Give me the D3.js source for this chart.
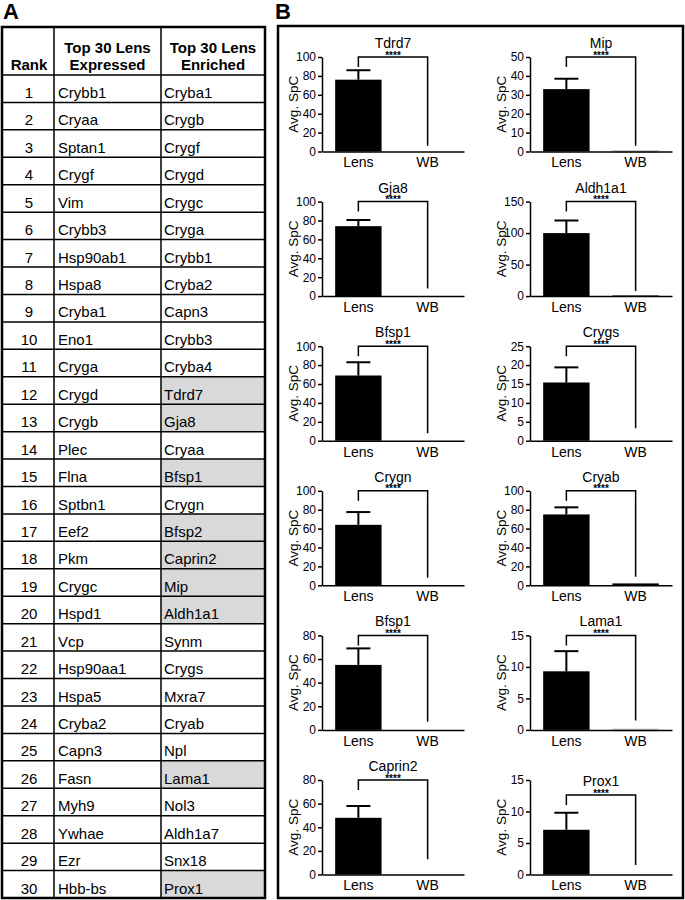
<!DOCTYPE html>
<html>
<head>
<meta charset="utf-8">
<script src="https://cdn.jsdelivr.net/npm/d3@7"></script>
<style>
  body { margin: 0; background: #fff; }
  svg { display: block; font-family: "Liberation Sans", Arial, sans-serif; }
</style>
</head>
<body>
<div id="fig"></div>
<script>
// ---- panel A: table ----
const ranks = [1,2,3,4,5,6,7,8,9,10,11,12,13,14,15,16,17,18,19,20,21,22,23,24,25,26,27,28,29,30]
const expressed = ['Crybb1','Cryaa','Sptan1','Crygf','Vim','Crybb3','Hsp90ab1','Hspa8','Cryba1','Eno1',
  'Cryga','Crygd','Crygb','Plec','Flna','Sptbn1','Eef2','Pkm','Crygc','Hspd1',
  'Vcp','Hsp90aa1','Hspa5','Cryba2','Capn3','Fasn','Myh9','Ywhae','Ezr','Hbb-bs']
const enriched = ['Cryba1','Crygb','Crygf','Crygd','Crygc','Cryga','Crybb1','Cryba2','Capn3','Crybb3',
  'Cryba4','Tdrd7','Gja8','Cryaa','Bfsp1','Crygn','Bfsp2','Caprin2','Mip','Aldh1a1',
  'Synm','Crygs','Mxra7','Cryab','Npl','Lama1','Nol3','Aldh1a7','Snx18','Prox1']
const shaded = ['Tdrd7','Gja8','Bfsp1','Bfsp2','Caprin2','Mip','Aldh1a1','Lama1','Prox1']

// ---- panel B: bar charts (Lens vs WB) ----
const groups = ['Lens','WB']
const proteins = ['Tdrd7','Mip','Gja8','Aldh1a1','Bfsp1','Crygs','Crygn','Cryab','Bfsp1','Lama1','Caprin2','Prox1']
const lensMean = [76, 33, 74, 100, 69, 15.4, 64, 75, 55, 9.3, 48, 7.1]
const lensErr  = [10, 5.5, 6.5, 20, 14, 4, 13.5, 7.5, 14, 3.2, 10, 2.7]
const wbMean   = [0, 0, 0, 1, 0, 0, 0, 2, 0, 0, 0, 0]
const yMax     = [100, 50, 100, 150, 100, 25, 100, 100, 80, 15, 80, 15]
const yStep    = [20, 10, 20, 50, 20, 5, 20, 20, 20, 5, 20, 5]
const bracketAt = [100, 50, 100, 150, 100, 25, 100, 100, 80, 15, 80, 12.6]
const legEnd   = [6, 3, 8, 8, 8, 3.3, 8, 9, 7, 1.5, 13, 1.5]
const wbGray   = [false, true, false, false, false, false, false, false, false, true, false, false]

const W = 685, H = 900
const svg = d3.select('#fig').append('svg').attr('width', W).attr('height', H)

svg.append('text').attr('x', 3).attr('y', 19).text('A')
   .style('font-weight', 'bold').style('font-size', '22px')
svg.append('text').attr('x', 275).attr('y', 19).text('B')
   .style('font-weight', 'bold').style('font-size', '22px')

// table geometry
const tL = 2, tR = 265, tT = 27, tB = 898, hB = 75
const c1 = 54, c2 = 161
const rowY = d3.scaleBand().domain(ranks).range([hB, tB])

const table = svg.append('g')

table.selectAll('rect.shade')
  .data(ranks.filter((r, i) => shaded.includes(enriched[i])))
  .enter().append('rect')
  .attr('class', 'shade')
  .attr('x', c2).attr('width', tR - c2)
  .attr('y', r => rowY(r)).attr('height', rowY.bandwidth())
  .style('fill', '#d9d9d9')

table.selectAll('line.row')
  .data(ranks)
  .enter().append('line')
  .attr('class', 'row')
  .attr('x1', tL).attr('x2', tR)
  .attr('y1', r => rowY(r)).attr('y2', r => rowY(r))
  .style('stroke', '#000').style('stroke-width', 1.5)

;[c1, c2].forEach(x => {
  table.append('line').attr('x1', x).attr('x2', x).attr('y1', tT).attr('y2', tB)
    .style('stroke', '#000').style('stroke-width', 1.5)
})

table.append('rect').attr('x', tL).attr('y', tT).attr('width', tR - tL).attr('height', tB - tT)
  .style('fill', 'none').style('stroke', '#000').style('stroke-width', 2.5)

const head = table.append('g').style('font-weight', 'bold').style('font-size', '15px')
  .attr('text-anchor', 'middle')
head.append('text').attr('x', (tL + c1) / 2 + 1).attr('y', 70).text('Rank')
head.append('text').attr('x', (c1 + c2) / 2).attr('y', 53).text('Top 30 Lens')
head.append('text').attr('x', (c1 + c2) / 2).attr('y', 70).text('Expressed')
head.append('text').attr('x', (c2 + tR) / 2).attr('y', 53).text('Top 30 Lens')
head.append('text').attr('x', (c2 + tR) / 2).attr('y', 70).text('Enriched')

const body = table.append('g').style('font-size', '15px')
body.selectAll('text.rank').data(ranks).enter().append('text')
  .attr('class', 'rank').attr('text-anchor', 'middle')
  .attr('x', (tL + c1) / 2 + 1).attr('y', r => rowY(r) + 23).text(r => r)
body.selectAll('text.expr').data(expressed).enter().append('text')
  .attr('class', 'expr')
  .attr('x', c1 + 4).attr('y', (d, i) => rowY(ranks[i]) + 23).text(d => d)
body.selectAll('text.enr').data(enriched).enter().append('text')
  .attr('class', 'enr')
  .attr('x', c2 + 3).attr('y', (d, i) => rowY(ranks[i]) + 23).text(d => d)

// box around panel B
svg.append('rect').attr('x', 278).attr('y', 26).attr('width', 405).attr('height', 872)
  .style('fill', 'none').style('stroke', '#000').style('stroke-width', 2.5)

// bar chart panels
const colX = [322, 530], plotW = 142, plotH = 94.5
const rowTop = d3.scaleLinear().domain([0, 1]).range([57, 57 + 144.6])

proteins.forEach((name, i) => {
  const col = i % 2, row = Math.floor(i / 2)
  const x0 = colX[col], top = rowTop(row), bot = top + plotH

  const x = d3.scaleBand().domain(groups).range([x0, x0 + plotW])
    .paddingInner(0.33).paddingOuter(0.19)
  const y = d3.scaleLinear().domain([0, yMax[i]]).range([bot, top])

  const g = svg.append('g')

  // bars
  const vals = [lensMean[i], wbMean[i]]
  g.selectAll('rect.bar').data(groups).enter().append('rect')
    .attr('class', 'bar')
    .attr('x', d => x(d)).attr('width', x.bandwidth())
    .attr('y', (d, k) => y(vals[k])).attr('height', (d, k) => bot - y(vals[k]))
    .style('fill', '#000')

  if (wbGray[i]) {
    g.append('line')
      .attr('x1', x('WB')).attr('x2', x('WB') + x.bandwidth())
      .attr('y1', bot).attr('y2', bot)
      .style('stroke', '#bdbdbd').style('stroke-width', 2.5)
  }

  // error bar
  const cx = x('Lens') + x.bandwidth() / 2
  g.append('line').attr('x1', cx).attr('x2', cx)
    .attr('y1', y(lensMean[i])).attr('y2', y(lensMean[i] + lensErr[i]))
    .style('stroke', '#000').style('stroke-width', 2)
  g.append('line').attr('x1', cx - 12).attr('x2', cx + 12)
    .attr('y1', y(lensMean[i] + lensErr[i])).attr('y2', y(lensMean[i] + lensErr[i]))
    .style('stroke', '#000').style('stroke-width', 2)

  // axes
  const yAxis = d3.axisLeft(y)
    .tickValues(d3.range(0, yMax[i] + 1e-9, yStep[i]))
    .tickSize(4).tickSizeOuter(0).tickPadding(2)
  const ya = g.append('g').attr('transform', `translate(${x0},0)`).call(yAxis)
  ya.selectAll('text').style('font-size', '12px').style('font-family', '"Liberation Sans", Arial, sans-serif')
  ya.select('.domain').style('stroke-width', 1.5)
  ya.selectAll('.tick line').style('stroke-width', 1.5)

  const xAxis = d3.axisBottom(x).tickSize(0).tickSizeOuter(0).tickPadding(6)
  const xa = g.append('g').attr('transform', `translate(0,${bot})`).call(xAxis)
  xa.selectAll('text').style('font-size', '14px').style('font-family', '"Liberation Sans", Arial, sans-serif')
  xa.select('.domain').style('stroke-width', 1.5)

  // y label
  g.append('text')
    .attr('transform', `translate(${x0 - 24},${(top + bot) / 2}) rotate(-90)`)
    .attr('text-anchor', 'middle').style('font-size', '13.5px').text('Avg. SpC')

  // significance bracket
  const wx = x('WB') + x.bandwidth() / 2
  const by = y(bracketAt[i])
  g.append('path')
    .attr('d', `M${cx},${by + 10}V${by}H${wx}V${y(legEnd[i])}`)
    .style('fill', 'none').style('stroke', '#000').style('stroke-width', 1.5)
  g.append('text').attr('x', (cx + wx) / 2).attr('y', by + 1.5)
    .attr('text-anchor', 'middle').style('font-size', '10px').style('font-weight', 'bold')
    .text('****')

  // title
  g.append('text').attr('x', (cx + wx) / 2).attr('y', by - 9)
    .attr('text-anchor', 'middle').style('font-size', '14px').text(name)
})
</script>
</body>
</html>
